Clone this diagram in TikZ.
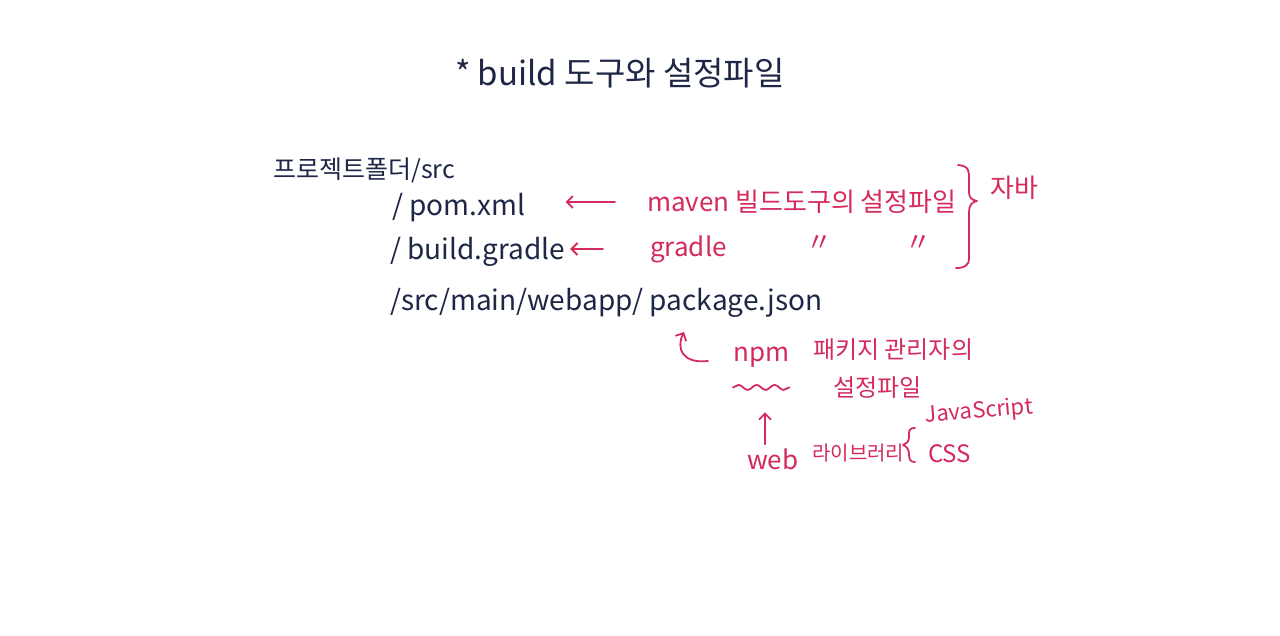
\documentclass[tikz,border=0pt]{standalone}
\usepackage{fontspec}
\setmainfont{Noto Sans CJK KR}
\usetikzlibrary{arrows.meta,decorations.pathmorphing}
\definecolor{ink}{HTML}{1E2846}
\definecolor{pen}{HTML}{D42A5C}
\tikzset{
  navy/.style={text=ink, font=\fontsize{25}{30}\selectfont, inner sep=0pt, anchor=west},
  navybig/.style={text=ink, font=\fontsize{28}{32}\selectfont, inner sep=0pt, anchor=west},
  red/.style={text=pen, font=\fontsize{26}{30}\selectfont, inner sep=0pt, anchor=west},
  redsmall/.style={text=pen, font=\fontsize{24}{28}\selectfont, inner sep=0pt, anchor=west},
  redtiny/.style={text=pen, font=\fontsize{20}{24}\selectfont, inner sep=0pt, anchor=west},
  arr/.style={draw=pen, line width=1.8pt, line cap=round, -{Straight Barb[length=6pt,width=12pt]}},
  pline/.style={draw=pen, line width=1.8pt, line cap=round, line join=round},
}
\begin{document}
\begin{tikzpicture}[x=1pt,y=-1pt]
\useasboundingbox[fill=white] (0,0) rectangle (1280,635);
% navy texts
\node[text=ink, font=\fontsize{33}{37}\selectfont, inner sep=0pt, anchor=west] (title) at (455,73) {* build 도구와 설정파일};
\node[navy] (root) at (273,170) {프로젝트폴더/src};
\node[navybig] (pom) at (392,208) {/ pom.xml};
\node[navybig] (gradlef) at (390,252) {/ build.gradle};
\node[navybig] (pkg) at (390,303) {/src/main/webapp/ package.json};
% red texts
\node[red] (maven) at (647,202) {maven 빌드도구의 설정파일};
\node[red] (gradle) at (650,249) {gradle};
\node[red] (d1) at (806,243) {〃};
\node[red] (d2) at (905,243) {〃};
\node[red] (java) at (990,188) {자바};
\node[red] (npm) at (733,357) {npm};
\node[redsmall] (pm) at (813,350) {패키지 관리자의};
\node[redsmall] (cfg) at (833,388) {설정파일};
\node[red] (web) at (747,459) {web};
\node[redtiny] (lib) at (812,453) {라이브러리};
\node[text=pen, font=\fontsize{22}{26}\selectfont, inner sep=0pt, anchor=west, rotate=5] (js) at (925,417) {JavaScript};
\node[redsmall] (css) at (928,454) {CSS};
% arrows
\draw[arr] ([xshift=-32pt]maven.west) -- ([xshift=40pt]pom.east |- maven.west);
\draw[arr] ([xshift=-47pt]gradle.west) -- ([xshift=5pt]gradlef.east |- gradle.west);
\coordinate (npmtail) at ([xshift=-25pt,yshift=-4pt]npm.west);
\draw[arr] (npmtail) .. controls (682,364) and (676,348) .. (684,332);
\draw[pline, decorate, decoration={snake, amplitude=2.5pt, segment length=18pt}]
  ([yshift=-20pt]npm.south west) -- ([yshift=-20pt]npm.south east);
\draw[arr] ([xshift=18pt,yshift=4pt]web.north west) -- ++(0,-32);
% right brace for Java
\draw[pline] (958,165) .. controls (970,166) and (969,172) .. (969,180)
  -- (969,192) .. controls (969,198) and (972,200) .. (977,201)
  .. controls (972,202) and (969,205) .. (969,212)
  -- (969,258) .. controls (969,266) and (964,268) .. (956,268);
% left brace for JavaScript / CSS
\draw[pline] (915,428) .. controls (908,428) and (909,432) .. (909,437)
  .. controls (909,442) and (906,444) .. (903,445)
  .. controls (906,446) and (909,449) .. (909,454)
  .. controls (909,459) and (910,462) .. (915,462);
\end{tikzpicture}
\end{document}
